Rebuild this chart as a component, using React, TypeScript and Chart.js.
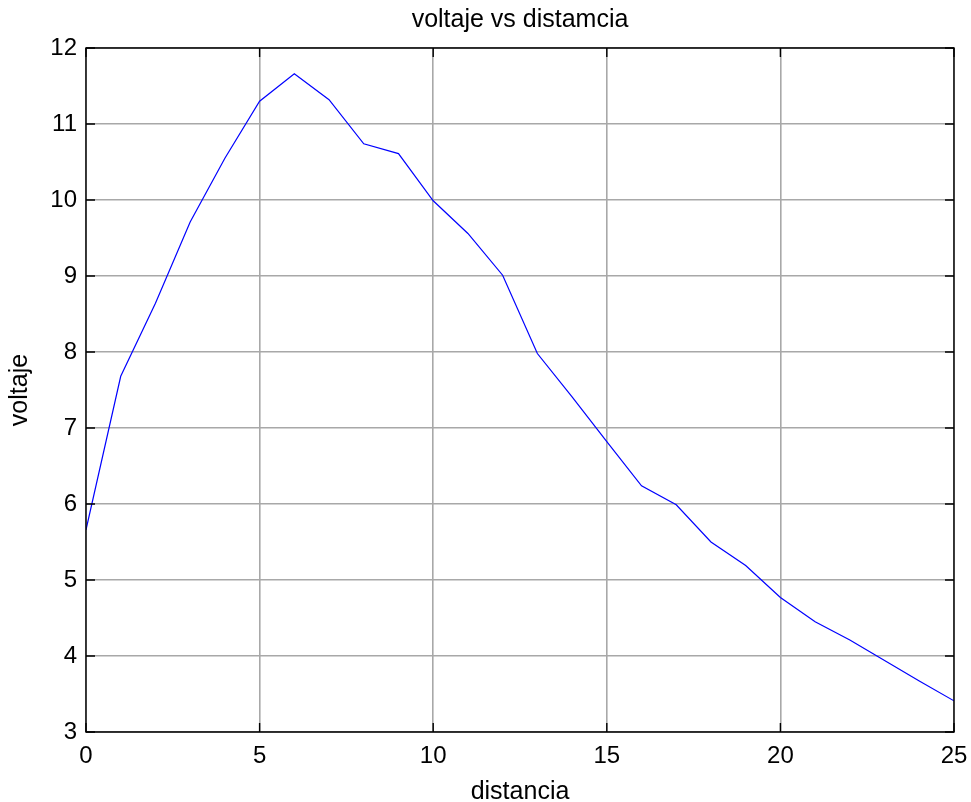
import React, { useEffect, useRef } from "react";
import { Chart, registerables } from "chart.js";

Chart.register(...registerables);

const distancia = [0, 1, 2, 3, 4, 5, 6, 7, 8, 9, 10, 11, 12, 13, 14, 15, 16, 17, 18, 19, 20, 21, 22, 23, 24, 25];
const voltaje = [5.66, 7.68, 8.64, 9.71, 10.55, 11.3, 11.66, 11.32, 10.74, 10.61, 9.99, 9.56, 9.01, 7.98, 7.41, 6.82, 6.24, 5.99, 5.5, 5.19, 4.77, 4.45, 4.21, 3.94, 3.67, 3.41];
const xTicks = [0, 5, 10, 15, 20, 25];
const yTicks = [3, 4, 5, 6, 7, 8, 9, 10, 11, 12];

const FONT = "'Liberation Sans', Arial, sans-serif";

const boxPlugin = {
  id: "matlabBox",
  afterDraw(chart: any) {
    const { ctx, chartArea, scales } = chart;
    const { left, right, top, bottom } = chartArea;
    const xs = scales.x;
    const ys = scales.y;
    const tl = 9;
    ctx.save();
    ctx.strokeStyle = "#000";
    ctx.lineWidth = 1.4;
    ctx.beginPath();
    ctx.rect(left, top, right - left, bottom - top);
    ctx.stroke();
    ctx.beginPath();
    for (const v of xTicks) {
      const px = xs.getPixelForValue(v);
      ctx.moveTo(px, bottom);
      ctx.lineTo(px, bottom - tl);
      ctx.moveTo(px, top);
      ctx.lineTo(px, top + tl);
    }
    for (const v of yTicks) {
      const py = ys.getPixelForValue(v);
      ctx.moveTo(left, py);
      ctx.lineTo(left + tl, py);
      ctx.moveTo(right, py);
      ctx.lineTo(right - tl, py);
    }
    ctx.stroke();
    ctx.restore();
  },
};

export default function App() {
  const ref = useRef<HTMLCanvasElement | null>(null);
  useEffect(() => {
    document.body.style.margin = "0";
    const canvas = ref.current;
    if (!canvas) return;
    const chart = new Chart(canvas, {
      type: "line",
      data: {
        datasets: [
          {
            label: "voltaje",
            data: distancia.map((d, i) => ({ x: d, y: voltaje[i] })),
            borderColor: "#0000ff",
            borderWidth: 1.2,
            pointRadius: 0,
            fill: false,
            tension: 0,
          },
        ],
      },
      options: {
        animation: false,
        responsive: false,
        devicePixelRatio: 1,
        layout: { padding: { left: 0, right: 17, top: 0, bottom: 0 } },
        plugins: {
          legend: { display: false },
          tooltip: { enabled: false },
          title: {
            display: true,
            fullSize: false,
            text: "voltaje vs distamcia",
            color: "#000",
            font: { family: FONT, size: 25, weight: "normal" as any, lineHeight: 1.2 },
            padding: { top: 5, bottom: 13 },
          },
        },
        scales: {
          x: {
            type: "linear",
            min: 0,
            max: 25,
            afterFit: (s: any) => {
              s.height = 70;
              s.paddingLeft = 0;
              s.paddingRight = 0;
            },
            afterBuildTicks: (s: any) => {
              s.ticks = xTicks.map((v) => ({ value: v }));
            },
            ticks: {
              color: "#000",
              font: { family: FONT, size: 24 },
              padding: 10,
              maxRotation: 0,
              autoSkip: false,
            },
            grid: {
              color: "#a8a8a8",
              lineWidth: 1.6,
              drawTicks: false,
            },
            border: { display: false },
            title: {
              display: true,
              text: "distancia",
              color: "#000",
              font: { family: FONT, size: 25, lineHeight: 1.2 },
              padding: { top: 0, bottom: -5 },
            },
          },
          y: {
            type: "linear",
            min: 3,
            max: 12,
            afterFit: (s: any) => {
              s.width = 86;
              s.paddingTop = 0;
              s.paddingBottom = 0;
            },
            afterBuildTicks: (s: any) => {
              s.ticks = yTicks.map((v) => ({ value: v }));
            },
            ticks: {
              color: "#000",
              font: { family: FONT, size: 24 },
              padding: 9,
              autoSkip: false,
            },
            grid: {
              color: "#a8a8a8",
              lineWidth: 1.6,
              drawTicks: false,
            },
            border: { display: false },
            title: {
              display: true,
              text: "voltaje",
              color: "#000",
              font: { family: FONT, size: 25, lineHeight: 1.2 },
              padding: { top: 5, bottom: 0 },
            },
          },
        },
      } as any,
      plugins: [boxPlugin],
    });
    return () => chart.destroy();
  }, []);
  return (
    <div style={{ position: "absolute", left: 0, top: 0, width: 971, height: 802, background: "#fff" }}>
      <canvas ref={ref} width={971} height={802} style={{ display: "block" }} />
    </div>
  );
}
